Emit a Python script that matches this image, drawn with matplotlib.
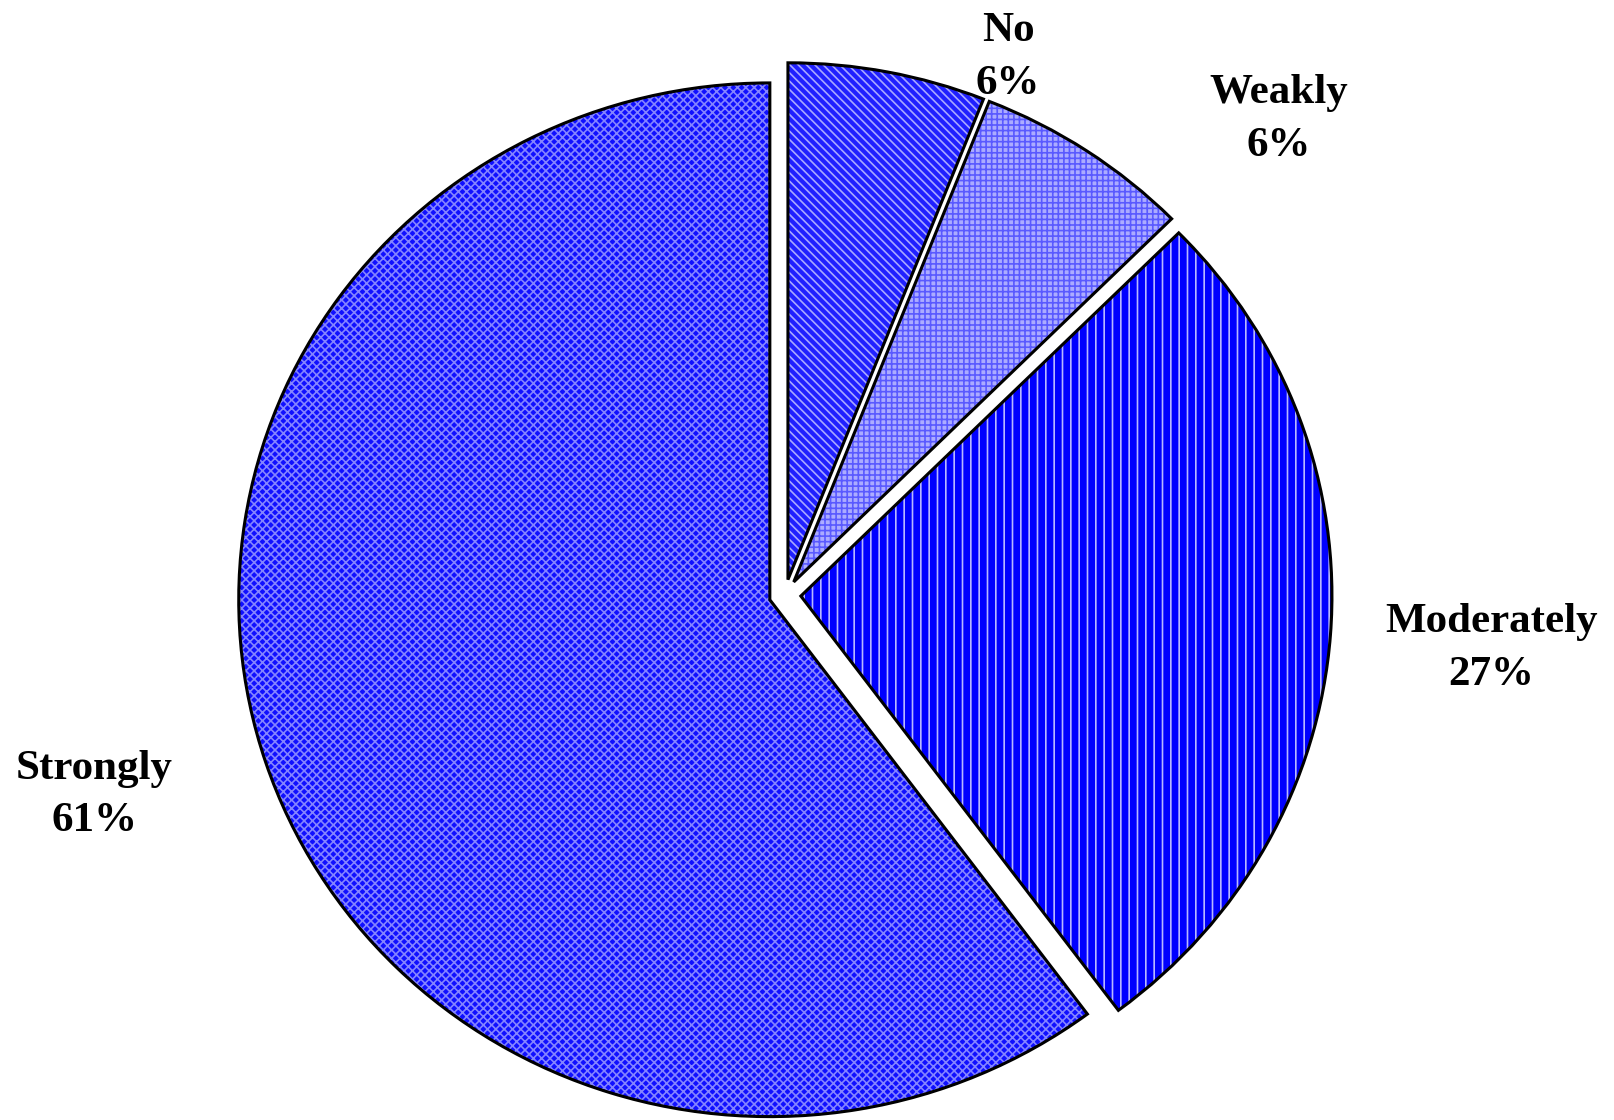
import matplotlib
matplotlib.use("Agg")
import matplotlib.pyplot as plt

# slice shares, labels as printed on the chart
categories = ["No", "Weakly", "Moderately", "Strongly"]
shares = [6.0, 6.6, 27.2, 60.2]
pct_labels = ["6%", "6%", "27%", "61%"]

face_colors = ["#2020ff", "#acacff", "#0000ff", "#1010ff"]
hatch_colors = ["#a8a8ff", "#5a5aff", "#b8b8ff", "#8484ff"]
hatches = ["\\\\\\\\", "+++", "||", "xxxx"]

plt.rcParams["hatch.linewidth"] = 1.2
plt.rcParams["font.family"] = ["Liberation Serif", "DejaVu Serif"]

fig = plt.figure(figsize=(16.14, 11.20), dpi=100)
ax = fig.add_axes([0, 0, 1, 1])

explode = [0.03] * len(shares)

# filled, hatched wedges (edge width 0 so only the hatch uses the edge colour)
wedges, _ = ax.pie(shares, explode=explode, startangle=90, counterclock=False,
                   radius=1.0, wedgeprops=dict(linewidth=0))
for w, fc, hc, h in zip(wedges, face_colors, hatch_colors, hatches):
    w.set_facecolor(fc)
    w.set_edgecolor(hc)
    w.set_hatch(h)
    w.set_linewidth(0)

# black outlines on top
ax.pie(shares, explode=explode, startangle=90, counterclock=False, radius=1.0,
       wedgeprops=dict(fill=False, edgecolor="black", linewidth=2.2))

# slightly wider than tall, like the original
ax.set_aspect("auto")
ax.set_xlim(-1.478, 1.561)
ax.set_ylim(-1.016, 1.151)
ax.axis("off")

label_pos = [(0.42, 1.04), (0.93, 0.92), (1.33, -0.104), (-1.30, -0.387)]
for name, pct, (x, y) in zip(categories, pct_labels, label_pos):
    ax.text(x, y, f"{name}\n{pct}", ha="center", va="center", fontsize=31,
            fontweight="bold", linespacing=1.5)

fig.savefig("out.png", dpi=100)
